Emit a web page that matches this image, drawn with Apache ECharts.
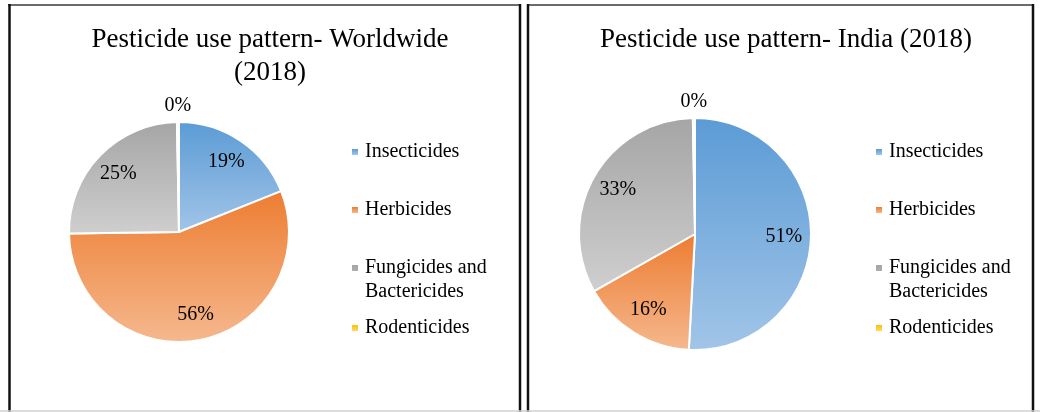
<!DOCTYPE html>
<html>
<head>
<meta charset="utf-8">
<script src="https://cdn.jsdelivr.net/npm/echarts@6/dist/echarts.min.js"></script>
<style>
html,body{margin:0;padding:0;background:#fff;}
#chart{width:1040px;height:412px;}
</style>
</head>
<body>
<div id="chart"></div>
<script>
// ---- data ----
var categories = ['Insecticides', 'Herbicides', 'Fungicides and\nBactericides', 'Rodenticides'];
var worldwideValues = [19, 56, 25, 0.3];
var indiaValues = [51, 16, 33, 0.3];
var worldwideTitle = 'Pesticide use pattern- Worldwide\n(2018)';
var indiaTitle = 'Pesticide use pattern- India (2018)';

// ---- styling ----
var FONT = '"Liberation Serif", "Times New Roman", serif';
var gradients = [
  ['#5b9bd5', '#a2c5e8'],
  ['#ed7d31', '#f5b88e'],
  ['#a5a5a5', '#cfcfcf'],
  ['#ffc000', '#ffd966']
];
function grad(i) {
  return { type: 'linear', x: 0, y: 0, x2: 0, y2: 1, global: false,
    colorStops: [{ offset: 0, color: gradients[i][0] }, { offset: 1, color: gradients[i][1] }] };
}
function pct(p) { return Math.round(p.percent) + '%'; }

function pieSeries(values, center, r) {
  var data = categories.map(function (n, i) {
    return { name: n, value: values[i], itemStyle: { color: grad(i) } };
  });
  var plain = categories.map(function (n, i) { return { name: n, value: values[i] }; });
  return [
    { type: 'pie', center: center, radius: [0, r], startAngle: 90, clockwise: true,
      label: { show: false }, labelLine: { show: false }, silent: true,
      itemStyle: { borderColor: '#fff', borderWidth: 2 }, emphasis: { disabled: true },
      data: data },
    { type: 'pie', center: center, radius: [r * 0.48, r], startAngle: 90, clockwise: true,
      silent: true, legendHoverLink: false, emphasis: { disabled: true },
      itemStyle: { color: 'rgba(0,0,0,0)', borderWidth: 0 },
      label: { show: true, position: 'inside', fontFamily: FONT, fontSize: 20, color: '#000',
        formatter: function (p) { return Math.round(p.percent) >= 1 ? pct(p) : ''; } },
      labelLine: { show: false }, data: plain },
    { type: 'pie', center: center, radius: [r + 2, r + 24], startAngle: 90, clockwise: true,
      silent: true, legendHoverLink: false, emphasis: { disabled: true },
      itemStyle: { color: 'rgba(0,0,0,0)', borderWidth: 0 },
      label: { show: true, position: 'inside', fontFamily: FONT, fontSize: 20, color: '#000',
        formatter: function (p) { return Math.round(p.percent) < 1 ? pct(p) : ''; } },
      labelLine: { show: false }, data: plain }
  ];
}

function legends(left, tops) {
  return categories.map(function (n, i) {
    var multi = n.indexOf('\n') >= 0;
    return {
      left: left, top: tops[i], orient: 'vertical', padding: 0,
      data: [n], selectedMode: false,
      icon: multi ? 'path://M0,0h6v6h-6z M0,30h0.01' : 'rect',
      itemWidth: 6, itemHeight: multi ? 30 : 6,
      itemStyle: { borderWidth: 0 },
      textStyle: { fontFamily: FONT, fontSize: 20, color: '#000', lineHeight: 24, padding: [0, 0, 0, 2] }
    };
  });
}

var option = {
  animation: false,
  backgroundColor: '#fff',
  title: [
    { text: worldwideTitle, left: 265, top: 18, textAlign: 'center',
      textStyle: { fontFamily: FONT, fontSize: 27, fontWeight: 'normal', color: '#000', lineHeight: 33 } },
    { text: indiaTitle, left: 781, top: 18, textAlign: 'center',
      textStyle: { fontFamily: FONT, fontSize: 27, fontWeight: 'normal', color: '#000', lineHeight: 33 } }
  ],
  legend: legends(352, [140, 198, 256, 316]).concat(legends(876, [140, 198, 256, 316])),
  series: pieSeries(worldwideValues, [179, 232], 110).concat(pieSeries(indiaValues, [695, 234], 116)),
  graphic: [
    { type: 'line', shape: { x1: 8, y1: 5, x2: 521, y2: 5 }, style: { stroke: '#6b6b6b', lineWidth: 2 } },
    { type: 'line', shape: { x1: 9.5, y1: 4, x2: 9.5, y2: 412 }, style: { stroke: '#111', lineWidth: 2.5 } },
    { type: 'line', shape: { x1: 520, y1: 4, x2: 520, y2: 412 }, style: { stroke: '#111', lineWidth: 2.5 } },
    { type: 'line', shape: { x1: 527, y1: 5, x2: 1034, y2: 5 }, style: { stroke: '#6b6b6b', lineWidth: 2 } },
    { type: 'line', shape: { x1: 528, y1: 4, x2: 528, y2: 412 }, style: { stroke: '#111', lineWidth: 2.5 } },
    { type: 'line', shape: { x1: 1033, y1: 4, x2: 1033, y2: 412 }, style: { stroke: '#111', lineWidth: 2.5 } },
    { type: 'line', shape: { x1: 0, y1: 411, x2: 1040, y2: 411 }, style: { stroke: '#d0d0d0', lineWidth: 1.5 } }
  ]
};
var chart = echarts.init(document.getElementById('chart'), null, { renderer: 'canvas' });
chart.setOption(option);
</script>
</body>
</html>
